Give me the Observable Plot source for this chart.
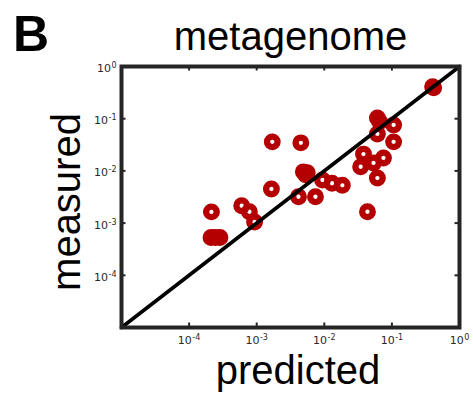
<!DOCTYPE html>
<html>
<head>
<meta charset="utf-8">
<script src="https://cdn.jsdelivr.net/npm/d3@7"></script>
<script src="https://cdn.jsdelivr.net/npm/@observablehq/plot@0.6"></script>
<style>
  html, body { margin: 0; padding: 0; background: #fff; }
  #chart svg { display: block; }
</style>
</head>
<body>
<div id="chart"></div>
<script>
// Predicted vs. measured abundance, metagenome panel
const predicted = [
  2.14e-4, 2.11e-4, 2.46e-4, 2.86e-4, 6.0e-4, 7.8e-4, 9.3e-4,
  1.7e-3, 4.5e-3, 1.65e-3, 4.9e-3, 5.6e-3, 5.3e-3, 4.15e-3, 7.4e-3,
  9.4e-3, 1.3e-2, 1.85e-2, 3.8e-2, 5.35e-2, 3.45e-2, 7.5e-2, 6.1e-2,
  6.1e-2, 6.6e-2, 0.106, 6.1e-2, 0.106, 4.35e-2, 0.40, 0.415
];
const measured = [
  1.64e-3, 5.3e-4, 5.3e-4, 5.3e-4, 2.15e-3, 1.65e-3, 1.05e-3,
  3.6e-2, 3.45e-2, 4.5e-3, 9.6e-3, 9.2e-3, 8.4e-3, 3.2e-3, 3.2e-3,
  6.7e-3, 5.8e-3, 5.3e-3, 2.1e-2, 1.42e-2, 1.2e-2, 1.77e-2, 7.3e-3,
  0.103, 8.7e-2, 7.6e-2, 5.1e-2, 3.6e-2, 1.65e-3, 0.41, 0.39
];

const axisDomain = [1e-5, 1];
const xTickValues = [1e-4, 1e-3, 1e-2, 1e-1, 1e0];
const yTickValues = [1e0, 1e-1, 1e-2, 1e-3, 1e-4];
const panelLetter = "B";
const panelTitle = "metagenome";
const xLabel = "predicted";
const yLabel = "measured";

const W = 473, H = 396;
const margin = {top: 66, right: 14, bottom: 69, left: 121};
const frameW = W - margin.left - margin.right;
const frameH = H - margin.top - margin.bottom;
const tickLen = 4.5;
const red = "#b40000";
const ink = "#252525";

const points = predicted.map((p, i) => ({predicted: p, measured: measured[i]}));
const identity = axisDomain.map(v => ({x: v, y: v}));

// "10^e" strings, turned into a base plus raised exponent after rendering
const powerLabel = d => "10^" + Math.round(Math.log10(d));

const chart = Plot.plot({
  width: W,
  height: H,
  marginTop: margin.top,
  marginRight: margin.right,
  marginBottom: margin.bottom,
  marginLeft: margin.left,
  style: {fontFamily: "DejaVu Sans", fontSize: "11px", color: "#333", background: "#fff"},
  x: {type: "log", domain: axisDomain},
  y: {type: "log", domain: axisDomain},
  marks: [
    Plot.axisX(xTickValues, {tickSize: 0, tickPadding: 9, tickFormat: powerLabel, label: null,
      fontSize: 11, fill: "#2a2a2a"}),
    Plot.axisY(yTickValues, {tickSize: 0, tickPadding: 5, tickFormat: powerLabel, label: null, dy: 2,
      fontSize: 11, fill: "#2a2a2a"}),
    Plot.dot(points, {x: "predicted", y: "measured", r: 5.3, stroke: red, strokeWidth: 6.3, fill: "none"}),
    Plot.line(identity, {x: "x", y: "y", stroke: "#000", strokeWidth: 3.6}),
    Plot.frame({stroke: ink, strokeWidth: 4}),
    // small inward ticks on all four sides
    Plot.tickX(xTickValues, {x: d => d, insetTop: frameH - tickLen, stroke: ink, strokeWidth: 2}),
    Plot.tickX(xTickValues, {x: d => d, insetBottom: frameH - tickLen, stroke: ink, strokeWidth: 2}),
    Plot.tickY(yTickValues, {y: d => d, insetRight: frameW - tickLen, stroke: ink, strokeWidth: 2}),
    Plot.tickY(yTickValues, {y: d => d, insetLeft: frameW - tickLen, stroke: ink, strokeWidth: 2}),
    // titles
    Plot.text([panelTitle], {frameAnchor: "top", text: d => d, dy: -17, lineAnchor: "bottom",
      fontFamily: "Liberation Sans", fontSize: 40, fill: "#000"}),
    Plot.text([xLabel], {frameAnchor: "bottom", text: d => d, dx: 7.5, dy: 56, lineAnchor: "bottom",
      fontFamily: "Liberation Sans", fontSize: 40, fill: "#000"}),
    Plot.text([yLabel], {frameAnchor: "left", text: d => d, dx: -42, dy: 5, rotate: -90,
      textAnchor: "middle", lineAnchor: "bottom",
      fontFamily: "Liberation Sans", fontSize: 40, fill: "#000"}),
    Plot.text([panelLetter], {frameAnchor: "top-left", text: d => d, dx: -108.5, dy: -16, lineAnchor: "bottom",
      textAnchor: "start", fontFamily: "Liberation Sans", fontWeight: "bold", fontSize: 50, fill: "#000"})
  ]
});

// raise the exponent of each tick label
d3.select(chart).selectAll('g[aria-label="x-axis tick label"] text, g[aria-label="y-axis tick label"] text')
  .each(function () {
    const t = d3.select(this);
    const [base, exp] = t.text().split("^");
    t.text(base);
    t.append("tspan").attr("dx", "0.5").attr("dy", "-0.5em").attr("font-size", "8px").text(exp);
  });

document.getElementById("chart").append(chart);
</script>
</body>
</html>
